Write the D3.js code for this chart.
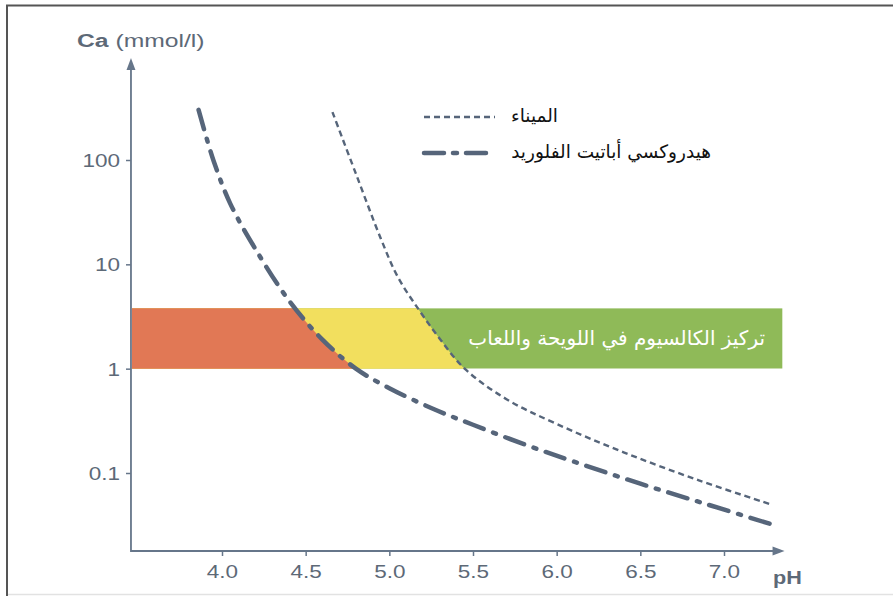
<!DOCTYPE html>
<html>
<head>
<meta charset="utf-8">
<script src="https://cdn.jsdelivr.net/npm/d3@7"></script>
<style>
  body { margin: 0; background: #fff; }
  svg { display: block; }
  .tick text { font-family: 'Liberation Sans', Arial, sans-serif; font-size: 18px; fill: #5d6977; }
  .ar { font-family: 'DejaVu Sans', sans-serif; }
</style>
</head>
<body>
<div id="chart"></div>
<script>
  // data
  const xTicks = [4.0, 4.5, 5.0, 5.5, 6.0, 6.5, 7.0];
  const yTicks = [0.1, 1, 10, 100];
  const yTickLabels = ['0.1', '1', '10', '100'];

  // enamel (الميناء)
  const enamelPh = [4.66, 4.80, 4.95, 5.05, 5.18, 5.30, 5.45, 5.70, 6.00, 6.40, 6.85, 7.28];
  const enamelCa = [288, 74, 17.5, 7.6, 3.6, 1.95, 1.0, 0.51, 0.295, 0.158, 0.085, 0.050];

  // fluorohydroxyapatite (هيدروكسي أباتيت الفلوريد)
  const fluoroPh = [3.86, 3.95, 4.05, 4.20, 4.40, 4.60, 4.80, 5.00, 5.25, 5.50, 5.80, 6.10, 6.50, 6.90, 7.29];
  const fluoroCa = [302, 98, 38, 14, 4.5, 1.9, 1.0, 0.65, 0.42, 0.29, 0.19, 0.129, 0.079, 0.050, 0.032];

  const band = [1, 3.8]; // Ca range in plaque and saliva
  const xMin = 3.456;
  const xMax = 7.35;

  const legendLabels = ['الميناء', 'هيدروكسي أباتيت الفلوريد'];
  const bandLabel = 'تركيز الكالسيوم في اللويحة واللعاب';

  const W = 893;
  const H = 596;
  const axisColor = '#66768a';
  const lineColor = '#56657a';
  const textColor = '#5d6977';
  const stretch = 1.25; // the picture is stretched sideways

  const x = d3.scaleLinear().domain([4, 7]).range([222, 724]);
  const y = d3.scaleLog().domain([0.1, 100]).range([473, 160]);
  const x0 = x(xMin);
  const yAxisBottom = 551;

  const svg = d3.select('#chart').append('svg')
    .attr('width', W)
    .attr('height', H);

  // frame
  svg.append('rect').attr('width', W).attr('height', H).attr('fill', '#fff');
  svg.append('path')
    .attr('d', `M7,${H} V5.5 H${W}`)
    .attr('fill', 'none')
    .attr('stroke', '#555')
    .attr('stroke-width', 2);
  svg.append('line')
    .attr('x1', 8).attr('x2', W).attr('y1', H - 1.5).attr('y2', H - 1.5)
    .attr('stroke', '#e2e2e2').attr('stroke-width', 1.5);

  const enamel = enamelPh.map((p, i) => ({ ph: p, ca: enamelCa[i] }));
  const fluoro = fluoroPh.map((p, i) => ({ ph: p, ca: fluoroCa[i] }));

  // band, coloured by the curves
  const defs = svg.append('defs');
  defs.append('clipPath').attr('id', 'bandClip')
    .append('rect')
    .attr('x', x0 + 1)
    .attr('y', y(band[1]))
    .attr('width', x(xMax) - x0 - 1)
    .attr('height', y(band[0]) - y(band[1]));

  const bandG = svg.append('g').attr('clip-path', 'url(#bandClip)');
  bandG.append('rect')
    .attr('x', x0)
    .attr('y', y(band[1]))
    .attr('width', x(xMax) - x0)
    .attr('height', y(band[0]) - y(band[1]))
    .attr('fill', '#8fba58');

  const smooth = d3.curveCatmullRom.alpha(0.5);

  const leftArea = d3.area()
    .curve(smooth)
    .y(d => y(d.ca))
    .x0(x0)
    .x1(d => x(d.ph));

  bandG.append('path').datum(enamel).attr('d', leftArea).attr('fill', '#f2df5e');
  bandG.append('path').datum(fluoro).attr('d', leftArea).attr('fill', '#e17855');

  svg.append('text')
    .attr('class', 'ar')
    .attr('x', 765)
    .attr('y', (y(band[0]) + y(band[1])) / 2 + 7)
    .attr('text-anchor', 'end')
    .attr('fill', '#fff')
    .attr('font-size', 20)
    .text(bandLabel);

  // axes
  const xAxis = svg.append('g')
    .attr('transform', `translate(0,${yAxisBottom})`)
    .call(d3.axisBottom(x).tickValues(xTicks).tickFormat(d3.format('.1f')).tickSize(5).tickPadding(9));
  xAxis.select('.domain').remove();
  xAxis.selectAll('.tick line').attr('stroke', axisColor).attr('stroke-width', 1.5);
  xAxis.selectAll('.tick text').attr('transform', `scale(${stretch},1)`);

  const yAxis = svg.append('g')
    .attr('transform', `translate(${x0},0)`)
    .call(d3.axisLeft(y).tickValues(yTicks).tickFormat((d, i) => yTickLabels[i]).tickSize(5).tickPadding(5));
  yAxis.select('.domain').remove();
  yAxis.selectAll('.tick line').attr('stroke', axisColor).attr('stroke-width', 1.5);
  yAxis.selectAll('.tick text')
    .attr('dy', '0.36em')
    .attr('x', -11 / stretch)
    .attr('transform', `scale(${stretch},1)`);

  svg.append('path')
    .attr('d', `M${x0},62 V${yAxisBottom} H${x(xMax) - 4}`)
    .attr('fill', 'none')
    .attr('stroke', axisColor)
    .attr('stroke-width', 1.8);
  svg.append('path')
    .attr('d', `M${x0},58 l-4.5,12 h9 z`)
    .attr('fill', axisColor);
  svg.append('path')
    .attr('d', `M${x(xMax) + 2},${yAxisBottom} l-12,-4.5 v9 z`)
    .attr('fill', axisColor);

  svg.append('text')
    .attr('transform', `translate(77,47) scale(1.3,1)`)
    .attr('font-family', "'Liberation Sans', Arial, sans-serif")
    .attr('font-size', 19)
    .attr('fill', textColor)
    .html('<tspan font-weight="bold">Ca</tspan> (mmol/l)');

  svg.append('text')
    .attr('transform', `translate(773,584) scale(1.2,1)`)
    .attr('font-family', "'Liberation Sans', Arial, sans-serif")
    .attr('font-size', 18)
    .attr('font-weight', 'bold')
    .attr('fill', textColor)
    .text('pH');

  // curves
  const line = d3.line()
    .curve(smooth)
    .x(d => x(d.ph))
    .y(d => y(d.ca));

  svg.append('path').datum(enamel)
    .attr('d', line)
    .attr('fill', 'none')
    .attr('stroke', lineColor)
    .attr('stroke-width', 2.4)
    .attr('stroke-dasharray', '6,4');

  svg.append('path').datum(fluoro)
    .attr('d', line)
    .attr('fill', 'none')
    .attr('stroke', lineColor)
    .attr('stroke-width', 4.5)
    .attr('stroke-linecap', 'round')
    .attr('stroke-dasharray', '20,10,3,10');

  // legend
  const legendStyles = [
    { width: 2.4, dash: '6,4', cap: 'butt' },
    { width: 4.5, dash: '20,9,4,9', cap: 'round' },
  ];
  const legendY = [117, 153];
  legendLabels.forEach((label, i) => {
    svg.append('line')
      .attr('x1', 424).attr('x2', 495)
      .attr('y1', legendY[i]).attr('y2', legendY[i])
      .attr('stroke', lineColor)
      .attr('stroke-width', legendStyles[i].width)
      .attr('stroke-linecap', legendStyles[i].cap)
      .attr('stroke-dasharray', legendStyles[i].dash);
    svg.append('text')
      .attr('class', 'ar')
      .attr('x', i === 0 ? 558 : 711)
      .attr('y', legendY[i] + 5)
      .attr('text-anchor', 'end')
      .attr('font-size', 18.5)
      .attr('fill', '#111')
      .text(label);
  });
</script>
</body>
</html>
